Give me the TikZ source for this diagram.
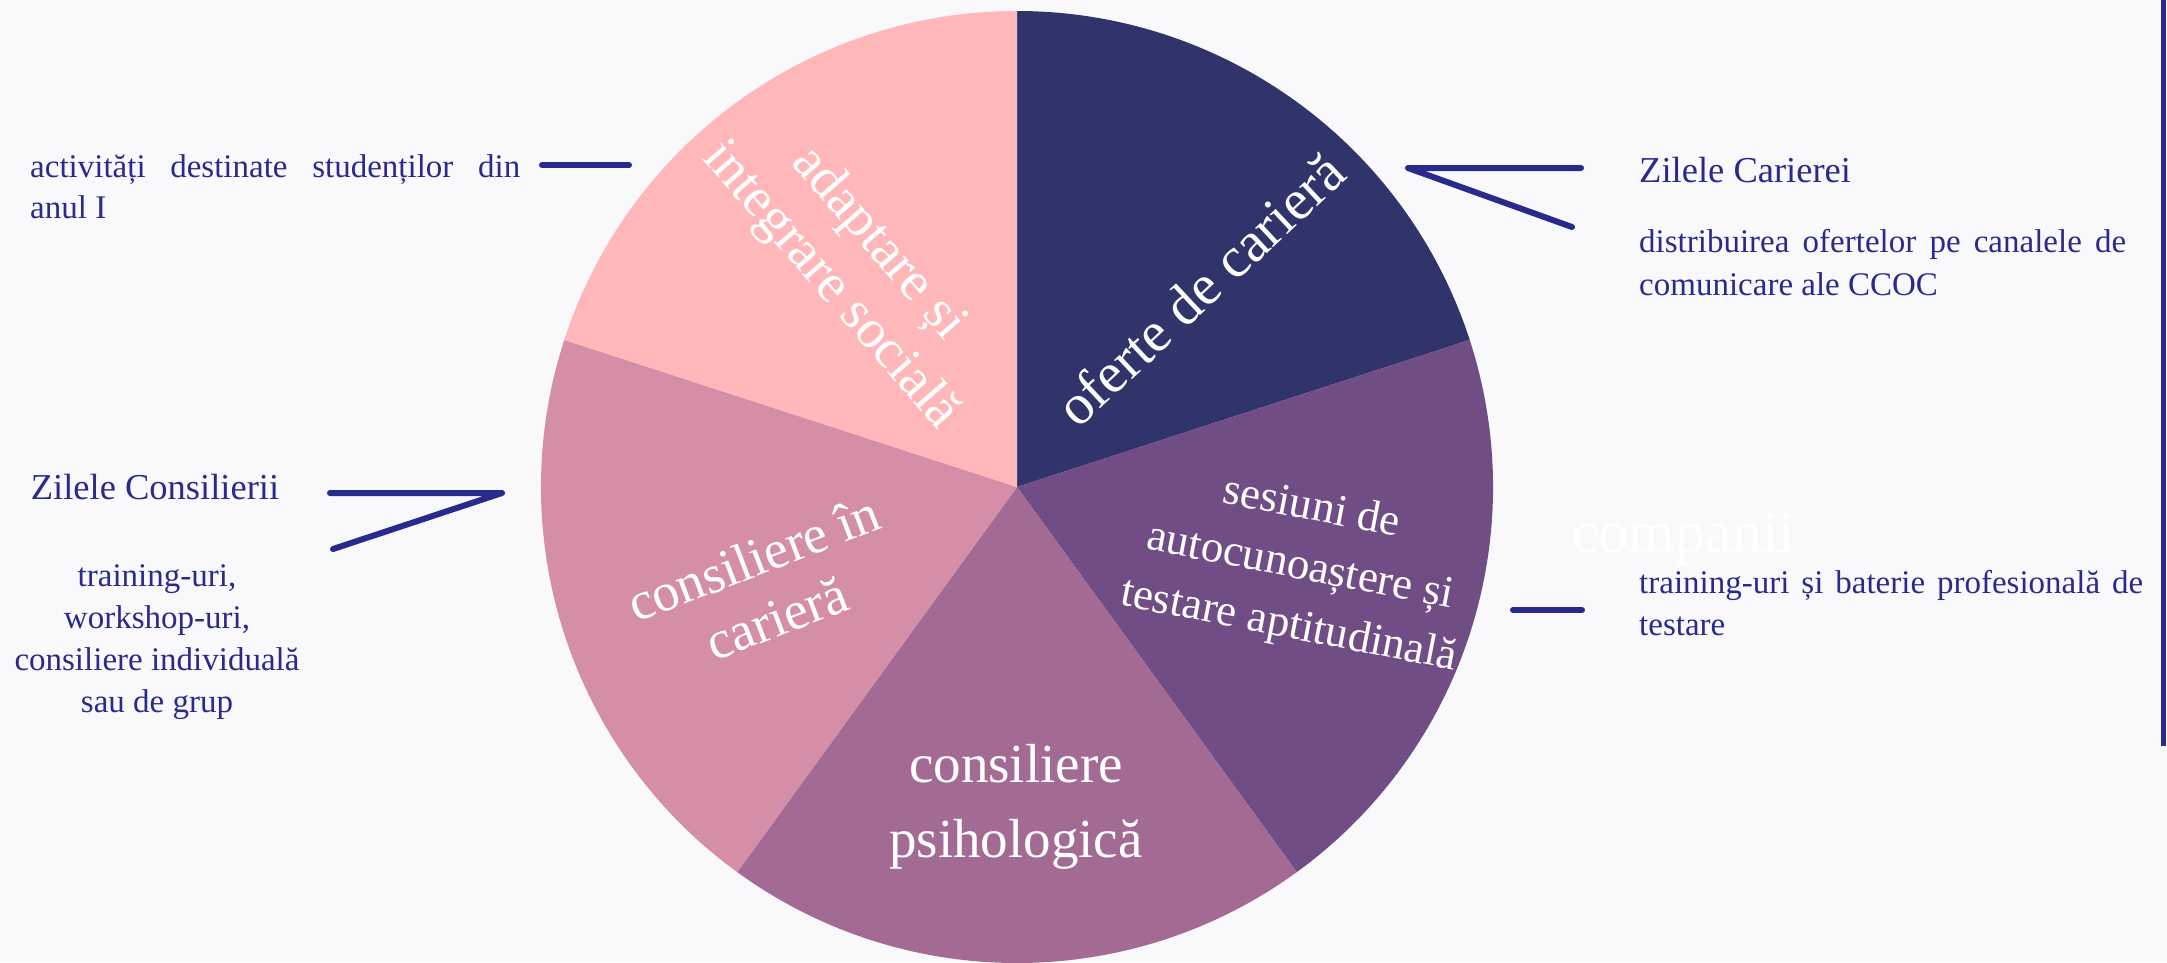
\documentclass[tikz,border=0pt]{standalone}
\usepackage{fontspec}
\setmainfont{Liberation Serif}
\usetikzlibrary{calc}
\definecolor{bg}{HTML}{F9F9FC}
\definecolor{ink}{HTML}{282B8C}
\definecolor{spink}{HTML}{FFB7BA}
\definecolor{snavy}{HTML}{30346B}
\definecolor{spurple}{HTML}{714D85}
\definecolor{smauve}{HTML}{A36B94}
\definecolor{srose}{HTML}{D48EA8}
\newcommand{\pieR}{476pt}
\begin{document}
\begin{tikzpicture}[x=1pt,y=-1pt,
  slicelabel/.style={text=white, align=center, inner sep=0pt},
  sidetext/.style={text=ink, inner sep=0pt, font=\fontsize{33}{42}\selectfont},
  sidetitle/.style={text=ink, inner sep=0pt, font=\fontsize{36.5}{44}\selectfont},
  leader/.style={draw=ink, line width=6pt, line cap=round, line join=round}]

\fill[bg] (0,0) rectangle (2167,962);
\useasboundingbox (0,0) rectangle (2167,962);

% pie
\coordinate (C) at (1017,487);
\fill[snavy]   (C) -- ++(90:\pieR)   arc[start angle=90,   end angle=18,   radius=\pieR] -- cycle;
\fill[spurple] (C) -- ++(18:\pieR)   arc[start angle=18,   end angle=-54,  radius=\pieR] -- cycle;
\fill[smauve]  (C) -- ++(-54:\pieR)  arc[start angle=-54,  end angle=-126, radius=\pieR] -- cycle;
\fill[srose]   (C) -- ++(-126:\pieR) arc[start angle=-126, end angle=-198, radius=\pieR] -- cycle;
\fill[spink]   (C) -- ++(162:\pieR)  arc[start angle=162,  end angle=90,   radius=\pieR] -- cycle;

% slice labels
\node[slicelabel, font=\fontsize{57}{64}\selectfont, rotate=43] (oferte) at (1200,289) {oferte de carieră};
\node[slicelabel, font=\fontsize{55}{64}\selectfont, rotate=-49] (adapt) at (854,265) {adaptare și\\integrare socială};
\node[slicelabel, font=\fontsize{45}{60}\selectfont, rotate=-11] (sesiuni) at (1300,568) {sesiuni de\\autocunoaștere și\\testare aptitudinală};
\node[slicelabel, font=\fontsize{54}{64}\selectfont, rotate=21] (cariera) at (765,588) {consiliere în\\carieră};
\node[slicelabel, font=\fontsize{55}{75}\selectfont] (psih) at (1016,807) {consiliere\\psihologică};

% left texts
\node[sidetext, anchor=base west] (act1) at (30,177) {\makebox[490pt][s]{activități destinate studenților din}};
\node[sidetext, anchor=base west] (act2) at (30,218) {anul I};
\node[sidetitle, anchor=base] (zcons) at (155,499) {Zilele Consilierii};
\node[sidetext, anchor=base] (zc1) at (157,586) {training-uri,};
\node[sidetext, anchor=base] (zc2) at (157,628) {workshop-uri,};
\node[sidetext, anchor=base] (zc3) at (157,670) {consiliere individuală};
\node[sidetext, anchor=base] (zc4) at (157,712) {sau de grup};

% right texts
\node[sidetitle, anchor=base west] (zcar) at (1639,182) {Zilele Carierei};
\node[sidetext, anchor=base west] (dist1) at (1639,252) {\makebox[487pt][s]{distribuirea ofertelor pe canalele de}};
\node[sidetext, anchor=base west] (dist2) at (1639,295) {comunicare ale CCOC};
\node[sidetext, anchor=base west] (tr1) at (1639,593) {\makebox[504pt][s]{training-uri și baterie profesională de}};
\node[sidetext, anchor=base west] (tr2) at (1639,635) {testare};
\node[text=white, inner sep=0pt, anchor=base west, font=\fontsize{60}{70}\selectfont] (comp) at (1572,552) {companii};

% leader lines
\coordinate (a1) at (542,165); \coordinate (a2) at (629,165);
\draw[leader] (a1) -- (a2);
\coordinate (b1) at (330,493); \coordinate (b2) at (502,493); \coordinate (b3) at (333,549);
\draw[leader] (b1) -- (b2) -- (b3);
\coordinate (c1) at (1581,168); \coordinate (c2) at (1408,168); \coordinate (c3) at (1572,227);
\draw[leader] (c1) -- (c2) -- (c3);
\coordinate (d1) at (1513,610); \coordinate (d2) at (1582,610);
\draw[leader] (d1) -- (d2);

% right bar
\coordinate (e1) at (2163,0); \coordinate (e2) at (2163,746);
\draw[draw=ink, line width=5pt] (e1) -- (e2);
\end{tikzpicture}
\end{document}
